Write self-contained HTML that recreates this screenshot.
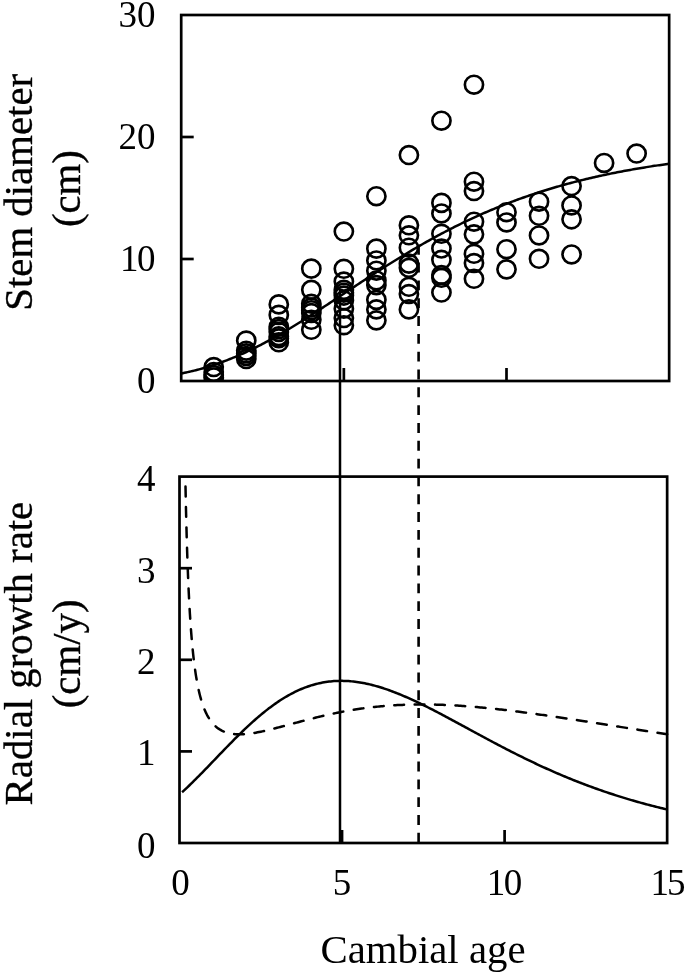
<!DOCTYPE html>
<html><head><meta charset="utf-8">
<style>
html,body{margin:0;padding:0;background:#fff;}
body{width:685px;height:975px;overflow:hidden;position:relative;}
svg{display:block;position:absolute;left:0;top:0;}
#txt{will-change:transform;}
text{font-family:"Liberation Serif",serif;fill:#000;}
.rot{stroke:#000;stroke-width:0.35px;}
</style></head><body>
<svg width="685" height="975" viewBox="0 0 685 975">
<rect width="685" height="975" fill="#fff"/>
<!-- top plot -->
<g fill="none" stroke="#000" stroke-width="2.7">
<rect x="181.20" y="15" width="487.95" height="366.00"/>
<line x1="181.20" y1="259.00" x2="193.70" y2="259.00"/>
<line x1="181.20" y1="137.00" x2="193.70" y2="137.00"/>
<line x1="343.85" y1="381.0" x2="343.85" y2="368.0"/>
<line x1="506.50" y1="381.0" x2="506.50" y2="368.0"/>
</g>
<defs><clipPath id="tc"><rect x="181.20" y="15" width="487.95" height="366.00"/></clipPath></defs>
<g fill="none" stroke="#000" stroke-width="2.65" clip-path="url(#tc)">
<ellipse cx="213.73" cy="367.09" rx="9.1" ry="8.95"/>
<ellipse cx="213.73" cy="371.97" rx="9.1" ry="8.95"/>
<ellipse cx="213.73" cy="375.02" rx="9.1" ry="8.95"/>
<ellipse cx="213.73" cy="377.46" rx="9.1" ry="8.95"/>
<ellipse cx="246.26" cy="340.50" rx="9.1" ry="8.95"/>
<ellipse cx="246.26" cy="350.74" rx="9.1" ry="8.95"/>
<ellipse cx="246.26" cy="353.31" rx="9.1" ry="8.95"/>
<ellipse cx="246.26" cy="355.99" rx="9.1" ry="8.95"/>
<ellipse cx="246.26" cy="359.04" rx="9.1" ry="8.95"/>
<ellipse cx="278.79" cy="304.38" rx="9.1" ry="8.95"/>
<ellipse cx="278.79" cy="314.88" rx="9.1" ry="8.95"/>
<ellipse cx="278.79" cy="326.71" rx="9.1" ry="8.95"/>
<ellipse cx="278.79" cy="329.03" rx="9.1" ry="8.95"/>
<ellipse cx="278.79" cy="331.96" rx="9.1" ry="8.95"/>
<ellipse cx="278.79" cy="336.23" rx="9.1" ry="8.95"/>
<ellipse cx="278.79" cy="338.30" rx="9.1" ry="8.95"/>
<ellipse cx="278.79" cy="342.33" rx="9.1" ry="8.95"/>
<ellipse cx="311.32" cy="268.64" rx="9.1" ry="8.95"/>
<ellipse cx="311.32" cy="289.87" rx="9.1" ry="8.95"/>
<ellipse cx="311.32" cy="303.77" rx="9.1" ry="8.95"/>
<ellipse cx="311.32" cy="307.56" rx="9.1" ry="8.95"/>
<ellipse cx="311.32" cy="310.24" rx="9.1" ry="8.95"/>
<ellipse cx="311.32" cy="313.05" rx="9.1" ry="8.95"/>
<ellipse cx="311.32" cy="319.76" rx="9.1" ry="8.95"/>
<ellipse cx="311.32" cy="329.76" rx="9.1" ry="8.95"/>
<ellipse cx="343.85" cy="231.55" rx="9.1" ry="8.95"/>
<ellipse cx="343.85" cy="268.76" rx="9.1" ry="8.95"/>
<ellipse cx="343.85" cy="281.57" rx="9.1" ry="8.95"/>
<ellipse cx="343.85" cy="289.87" rx="9.1" ry="8.95"/>
<ellipse cx="343.85" cy="292.67" rx="9.1" ry="8.95"/>
<ellipse cx="343.85" cy="295.60" rx="9.1" ry="8.95"/>
<ellipse cx="343.85" cy="300.48" rx="9.1" ry="8.95"/>
<ellipse cx="343.85" cy="308.65" rx="9.1" ry="8.95"/>
<ellipse cx="343.85" cy="318.05" rx="9.1" ry="8.95"/>
<ellipse cx="343.85" cy="325.25" rx="9.1" ry="8.95"/>
<ellipse cx="376.38" cy="196.17" rx="9.1" ry="8.95"/>
<ellipse cx="376.38" cy="248.63" rx="9.1" ry="8.95"/>
<ellipse cx="376.38" cy="260.46" rx="9.1" ry="8.95"/>
<ellipse cx="376.38" cy="270.71" rx="9.1" ry="8.95"/>
<ellipse cx="376.38" cy="280.47" rx="9.1" ry="8.95"/>
<ellipse cx="376.38" cy="285.11" rx="9.1" ry="8.95"/>
<ellipse cx="376.38" cy="299.87" rx="9.1" ry="8.95"/>
<ellipse cx="376.38" cy="309.39" rx="9.1" ry="8.95"/>
<ellipse cx="376.38" cy="320.37" rx="9.1" ry="8.95"/>
<ellipse cx="408.91" cy="155.06" rx="9.1" ry="8.95"/>
<ellipse cx="408.91" cy="225.33" rx="9.1" ry="8.95"/>
<ellipse cx="408.91" cy="235.33" rx="9.1" ry="8.95"/>
<ellipse cx="408.91" cy="247.65" rx="9.1" ry="8.95"/>
<ellipse cx="408.91" cy="263.64" rx="9.1" ry="8.95"/>
<ellipse cx="408.91" cy="267.78" rx="9.1" ry="8.95"/>
<ellipse cx="408.91" cy="286.82" rx="9.1" ry="8.95"/>
<ellipse cx="408.91" cy="294.01" rx="9.1" ry="8.95"/>
<ellipse cx="408.91" cy="309.39" rx="9.1" ry="8.95"/>
<ellipse cx="441.44" cy="120.65" rx="9.1" ry="8.95"/>
<ellipse cx="441.44" cy="202.88" rx="9.1" ry="8.95"/>
<ellipse cx="441.44" cy="213.49" rx="9.1" ry="8.95"/>
<ellipse cx="441.44" cy="233.75" rx="9.1" ry="8.95"/>
<ellipse cx="441.44" cy="248.51" rx="9.1" ry="8.95"/>
<ellipse cx="441.44" cy="259.85" rx="9.1" ry="8.95"/>
<ellipse cx="441.44" cy="274.98" rx="9.1" ry="8.95"/>
<ellipse cx="441.44" cy="277.79" rx="9.1" ry="8.95"/>
<ellipse cx="441.44" cy="292.55" rx="9.1" ry="8.95"/>
<ellipse cx="473.97" cy="84.66" rx="9.1" ry="8.95"/>
<ellipse cx="473.97" cy="181.65" rx="9.1" ry="8.95"/>
<ellipse cx="473.97" cy="191.05" rx="9.1" ry="8.95"/>
<ellipse cx="473.97" cy="221.67" rx="9.1" ry="8.95"/>
<ellipse cx="473.97" cy="234.36" rx="9.1" ry="8.95"/>
<ellipse cx="473.97" cy="253.75" rx="9.1" ry="8.95"/>
<ellipse cx="473.97" cy="263.03" rx="9.1" ry="8.95"/>
<ellipse cx="473.97" cy="278.76" rx="9.1" ry="8.95"/>
<ellipse cx="506.50" cy="212.15" rx="9.1" ry="8.95"/>
<ellipse cx="506.50" cy="222.40" rx="9.1" ry="8.95"/>
<ellipse cx="506.50" cy="249.24" rx="9.1" ry="8.95"/>
<ellipse cx="506.50" cy="269.37" rx="9.1" ry="8.95"/>
<ellipse cx="539.03" cy="201.66" rx="9.1" ry="8.95"/>
<ellipse cx="539.03" cy="215.81" rx="9.1" ry="8.95"/>
<ellipse cx="539.03" cy="235.45" rx="9.1" ry="8.95"/>
<ellipse cx="539.03" cy="258.76" rx="9.1" ry="8.95"/>
<ellipse cx="571.56" cy="186.04" rx="9.1" ry="8.95"/>
<ellipse cx="571.56" cy="205.44" rx="9.1" ry="8.95"/>
<ellipse cx="571.56" cy="219.35" rx="9.1" ry="8.95"/>
<ellipse cx="571.56" cy="254.49" rx="9.1" ry="8.95"/>
<ellipse cx="604.09" cy="162.99" rx="9.1" ry="8.95"/>
<ellipse cx="636.62" cy="153.59" rx="9.1" ry="8.95"/>
</g>
<path d="M181.20,373.49 L182.83,373.17 L184.45,372.83 L186.08,372.48 L187.71,372.13 L189.33,371.76 L190.96,371.38 L192.59,370.99 L194.21,370.60 L195.84,370.19 L197.46,369.77 L199.09,369.34 L200.72,368.89 L202.34,368.44 L203.97,367.98 L205.60,367.50 L207.22,367.02 L208.85,366.52 L210.48,366.01 L212.10,365.49 L213.73,364.96 L215.36,364.42 L216.98,363.86 L218.61,363.30 L220.24,362.72 L221.86,362.14 L223.49,361.54 L225.12,360.93 L226.74,360.31 L228.37,359.68 L230.00,359.03 L231.62,358.38 L233.25,357.71 L234.87,357.04 L236.50,356.35 L238.13,355.65 L239.75,354.94 L241.38,354.22 L243.01,353.49 L244.63,352.75 L246.26,352.00 L247.89,351.24 L249.51,350.47 L251.14,349.69 L252.77,348.89 L254.39,348.09 L256.02,347.28 L257.65,346.46 L259.27,345.63 L260.90,344.79 L262.52,343.94 L264.15,343.08 L265.78,342.22 L267.40,341.34 L269.03,340.46 L270.66,339.57 L272.28,338.66 L273.91,337.76 L275.54,336.84 L277.16,335.91 L278.79,334.98 L280.42,334.04 L282.04,333.10 L283.67,332.14 L285.30,331.18 L286.92,330.22 L288.55,329.24 L290.18,328.26 L291.80,327.28 L293.43,326.28 L295.06,325.29 L296.68,324.28 L298.31,323.28 L299.93,322.26 L301.56,321.24 L303.19,320.22 L304.81,319.19 L306.44,318.16 L308.07,317.12 L309.69,316.08 L311.32,315.04 L312.95,313.99 L314.57,312.94 L316.20,311.89 L317.83,310.83 L319.45,309.77 L321.08,308.71 L322.71,307.64 L324.33,306.57 L325.96,305.51 L327.58,304.43 L329.21,303.36 L330.84,302.29 L332.46,301.21 L334.09,300.13 L335.72,299.06 L337.34,297.98 L338.97,296.90 L340.60,295.82 L342.22,294.74 L343.85,293.66 L345.48,292.58 L347.10,291.50 L348.73,290.42 L350.36,289.34 L351.98,288.27 L353.61,287.19 L355.24,286.11 L356.86,285.04 L358.49,283.97 L360.12,282.89 L361.74,281.82 L363.37,280.76 L364.99,279.69 L366.62,278.62 L368.25,277.56 L369.87,276.50 L371.50,275.44 L373.13,274.39 L374.75,273.34 L376.38,272.29 L378.01,271.24 L379.63,270.20 L381.26,269.16 L382.89,268.12 L384.51,267.09 L386.14,266.06 L387.77,265.03 L389.39,264.01 L391.02,262.99 L392.64,261.97 L394.27,260.96 L395.90,259.96 L397.52,258.95 L399.15,257.95 L400.78,256.96 L402.40,255.97 L404.03,254.98 L405.66,254.00 L407.28,253.03 L408.91,252.06 L410.54,251.09 L412.16,250.13 L413.79,249.17 L415.42,248.22 L417.04,247.27 L418.67,246.33 L420.30,245.39 L421.92,244.46 L423.55,243.53 L425.18,242.61 L426.80,241.70 L428.43,240.79 L430.05,239.88 L431.68,238.98 L433.31,238.09 L434.93,237.20 L436.56,236.31 L438.19,235.44 L439.81,234.57 L441.44,233.70 L443.07,232.84 L444.69,231.98 L446.32,231.14 L447.95,230.29 L449.57,229.45 L451.20,228.62 L452.83,227.80 L454.45,226.98 L456.08,226.16 L457.70,225.35 L459.33,224.55 L460.96,223.75 L462.58,222.96 L464.21,222.18 L465.84,221.40 L467.46,220.63 L469.09,219.86 L470.72,219.10 L472.34,218.34 L473.97,217.59 L475.60,216.85 L477.22,216.11 L478.85,215.38 L480.48,214.65 L482.10,213.93 L483.73,213.22 L485.36,212.51 L486.98,211.81 L488.61,211.11 L490.24,210.42 L491.86,209.73 L493.49,209.05 L495.11,208.38 L496.74,207.71 L498.37,207.05 L499.99,206.39 L501.62,205.74 L503.25,205.09 L504.87,204.45 L506.50,203.82 L508.13,203.19 L509.75,202.57 L511.38,201.95 L513.01,201.34 L514.63,200.73 L516.26,200.13 L517.89,199.54 L519.51,198.95 L521.14,198.36 L522.76,197.78 L524.39,197.21 L526.02,196.64 L527.64,196.08 L529.27,195.52 L530.90,194.97 L532.52,194.42 L534.15,193.88 L535.78,193.34 L537.40,192.81 L539.03,192.28 L540.66,191.76 L542.28,191.24 L543.91,190.73 L545.54,190.22 L547.16,189.72 L548.79,189.22 L550.42,188.73 L552.04,188.25 L553.67,187.76 L555.30,187.29 L556.92,186.81 L558.55,186.34 L560.17,185.88 L561.80,185.42 L563.43,184.97 L565.05,184.52 L566.68,184.07 L568.31,183.63 L569.93,183.20 L571.56,182.76 L573.19,182.34 L574.81,181.91 L576.44,181.50 L578.07,181.08 L579.69,180.67 L581.32,180.27 L582.95,179.86 L584.57,179.47 L586.20,179.07 L587.83,178.68 L589.45,178.30 L591.08,177.92 L592.70,177.54 L594.33,177.17 L595.96,176.80 L597.58,176.43 L599.21,176.07 L600.84,175.72 L602.46,175.36 L604.09,175.01 L605.72,174.67 L607.34,174.32 L608.97,173.99 L610.60,173.65 L612.22,173.32 L613.85,172.99 L615.48,172.67 L617.10,172.35 L618.73,172.03 L620.36,171.71 L621.98,171.40 L623.61,171.10 L625.23,170.79 L626.86,170.49 L628.49,170.20 L630.11,169.90 L631.74,169.61 L633.37,169.32 L634.99,169.04 L636.62,168.76 L638.25,168.48 L639.87,168.21 L641.50,167.93 L643.13,167.66 L644.75,167.40 L646.38,167.14 L648.01,166.88 L649.63,166.62 L651.26,166.36 L652.88,166.11 L654.51,165.86 L656.14,165.62 L657.76,165.38 L659.39,165.14 L661.02,164.90 L662.64,164.66 L664.27,164.43 L665.90,164.20 L667.52,163.97 L669.15,163.75" fill="none" stroke="#000" stroke-width="2.5"/>
<!-- lower plot -->
<g fill="none" stroke="#000" stroke-width="2.7">
<rect x="179.50" y="476.60" width="487.65" height="366.40"/>
<line x1="179.50" y1="751.40" x2="192.00" y2="751.40"/>
<line x1="179.50" y1="659.80" x2="192.00" y2="659.80"/>
<line x1="179.50" y1="568.20" x2="192.00" y2="568.20"/>
<line x1="342.05" y1="843.0" x2="342.05" y2="830.0"/>
<line x1="504.60" y1="843.0" x2="504.60" y2="830.0"/>
</g>
<path d="M182.10,792.28 L182.75,791.68 L184.38,790.16 L186.00,788.62 L187.63,787.07 L189.25,785.51 L190.88,783.93 L192.50,782.33 L194.13,780.73 L195.75,779.11 L197.38,777.48 L199.01,775.83 L200.63,774.18 L202.26,772.53 L203.88,770.86 L205.51,769.19 L207.13,767.51 L208.76,765.82 L210.38,764.13 L212.01,762.44 L213.64,760.75 L215.26,759.06 L216.89,757.36 L218.51,755.67 L220.14,753.98 L221.76,752.29 L223.39,750.60 L225.01,748.92 L226.64,747.25 L228.26,745.58 L229.89,743.92 L231.52,742.26 L233.14,740.62 L234.77,738.99 L236.39,737.36 L238.02,735.75 L239.64,734.15 L241.27,732.57 L242.89,730.99 L244.52,729.44 L246.15,727.90 L247.77,726.37 L249.40,724.87 L251.02,723.38 L252.65,721.91 L254.27,720.45 L255.90,719.02 L257.52,717.61 L259.15,716.22 L260.77,714.85 L262.40,713.51 L264.03,712.19 L265.65,710.89 L267.28,709.61 L268.90,708.36 L270.53,707.13 L272.15,705.93 L273.78,704.76 L275.40,703.61 L277.03,702.49 L278.66,701.39 L280.28,700.32 L281.91,699.28 L283.53,698.27 L285.16,697.28 L286.78,696.32 L288.41,695.39 L290.03,694.49 L291.66,693.62 L293.28,692.78 L294.91,691.97 L296.54,691.18 L298.16,690.42 L299.79,689.70 L301.41,689.00 L303.04,688.33 L304.66,687.69 L306.29,687.08 L307.91,686.50 L309.54,685.95 L311.17,685.43 L312.79,684.94 L314.42,684.47 L316.04,684.04 L317.67,683.63 L319.29,683.26 L320.92,682.91 L322.54,682.59 L324.17,682.29 L325.79,682.03 L327.42,681.79 L329.05,681.58 L330.67,681.40 L332.30,681.24 L333.92,681.11 L335.55,681.01 L337.17,680.93 L338.80,680.88 L340.42,680.86 L342.05,680.86 L343.68,680.88 L345.30,680.93 L346.93,681.00 L348.55,681.10 L350.18,681.22 L351.80,681.37 L353.43,681.54 L355.05,681.73 L356.68,681.94 L358.30,682.17 L359.93,682.43 L361.56,682.71 L363.18,683.00 L364.81,683.32 L366.43,683.66 L368.06,684.02 L369.68,684.39 L371.31,684.79 L372.93,685.20 L374.56,685.63 L376.19,686.08 L377.81,686.55 L379.44,687.03 L381.06,687.53 L382.69,688.05 L384.31,688.58 L385.94,689.13 L387.56,689.69 L389.19,690.27 L390.81,690.86 L392.44,691.46 L394.07,692.08 L395.69,692.71 L397.32,693.35 L398.94,694.01 L400.57,694.68 L402.19,695.35 L403.82,696.04 L405.44,696.75 L407.07,697.46 L408.70,698.18 L410.32,698.91 L411.95,699.65 L413.57,700.40 L415.20,701.16 L416.82,701.93 L418.45,702.70 L420.07,703.48 L421.70,704.27 L423.32,705.07 L424.95,705.87 L426.58,706.68 L428.20,707.50 L429.83,708.32 L431.45,709.15 L433.08,709.98 L434.70,710.82 L436.33,711.66 L437.95,712.51 L439.58,713.36 L441.21,714.22 L442.83,715.07 L444.46,715.94 L446.08,716.80 L447.71,717.67 L449.33,718.54 L450.96,719.41 L452.58,720.28 L454.21,721.16 L455.83,722.04 L457.46,722.92 L459.09,723.80 L460.71,724.68 L462.34,725.56 L463.96,726.45 L465.59,727.33 L467.21,728.21 L468.84,729.10 L470.46,729.98 L472.09,730.86 L473.72,731.74 L475.34,732.63 L476.97,733.51 L478.59,734.39 L480.22,735.26 L481.84,736.14 L483.47,737.02 L485.09,737.89 L486.72,738.76 L488.34,739.63 L489.97,740.50 L491.60,741.36 L493.22,742.23 L494.85,743.09 L496.47,743.95 L498.10,744.80 L499.72,745.65 L501.35,746.50 L502.97,747.35 L504.60,748.19 L506.23,749.03 L507.85,749.87 L509.48,750.70 L511.10,751.53 L512.73,752.36 L514.35,753.18 L515.98,754.00 L517.60,754.81 L519.23,755.62 L520.86,756.43 L522.48,757.23 L524.11,758.03 L525.73,758.82 L527.36,759.61 L528.98,760.40 L530.61,761.18 L532.23,761.96 L533.86,762.73 L535.48,763.50 L537.11,764.26 L538.74,765.02 L540.36,765.77 L541.99,766.52 L543.61,767.27 L545.24,768.01 L546.86,768.74 L548.49,769.47 L550.11,770.20 L551.74,770.92 L553.37,771.63 L554.99,772.34 L556.62,773.05 L558.24,773.75 L559.87,774.44 L561.49,775.13 L563.12,775.82 L564.74,776.50 L566.37,777.17 L567.99,777.84 L569.62,778.51 L571.25,779.17 L572.87,779.82 L574.50,780.47 L576.12,781.12 L577.75,781.76 L579.37,782.39 L581.00,783.02 L582.62,783.65 L584.25,784.27 L585.88,784.88 L587.50,785.49 L589.13,786.09 L590.75,786.69 L592.38,787.29 L594.00,787.88 L595.63,788.46 L597.25,789.04 L598.88,789.61 L600.50,790.18 L602.13,790.75 L603.76,791.31 L605.38,791.86 L607.01,792.41 L608.63,792.95 L610.26,793.49 L611.88,794.03 L613.51,794.56 L615.13,795.08 L616.76,795.60 L618.38,796.12 L620.01,796.63 L621.64,797.14 L623.26,797.64 L624.89,798.14 L626.51,798.63 L628.14,799.12 L629.76,799.60 L631.39,800.08 L633.01,800.55 L634.64,801.02 L636.27,801.48 L637.89,801.94 L639.52,802.40 L641.14,802.85 L642.77,803.30 L644.39,803.74 L646.02,804.18 L647.64,804.61 L649.27,805.04 L650.89,805.47 L652.52,805.89 L654.15,806.31 L655.77,806.72 L657.40,807.13 L659.02,807.53 L660.65,807.93 L662.27,808.33 L663.90,808.72 L665.52,809.11 L667.15,809.49" fill="none" stroke="#000" stroke-width="2.5"/>
<path d="M185.31,476.60 L185.35,478.91 L185.68,495.23 L186.00,509.91 L186.33,523.17 L186.65,535.22 L186.98,546.20 L187.30,556.26 L187.63,565.50 L187.95,574.01 L188.28,581.89 L188.60,589.19 L188.93,595.97 L189.25,602.30 L189.58,608.20 L189.90,613.73 L190.23,618.91 L190.55,623.78 L190.88,628.36 L191.20,632.67 L191.53,636.75 L191.85,640.60 L192.18,644.25 L192.50,647.70 L192.83,650.98 L193.15,654.10 L193.48,657.06 L193.80,659.88 L194.13,662.57 L194.45,665.14 L194.78,667.59 L195.10,669.93 L195.43,672.17 L195.75,674.31 L196.08,676.36 L196.41,678.33 L196.73,680.21 L197.06,682.02 L197.38,683.76 L197.71,685.43 L198.03,687.04 L198.36,688.58 L198.68,690.07 L199.01,691.50 L199.33,692.88 L199.66,694.21 L199.98,695.49 L200.31,696.73 L200.63,697.93 L200.96,699.08 L201.28,700.19 L201.61,701.27 L201.93,702.31 L202.26,703.31 L202.58,704.29 L202.91,705.23 L203.23,706.14 L203.56,707.02 L203.88,707.87 L204.21,708.70 L204.53,709.50 L204.86,710.28 L205.18,711.03 L205.51,711.76 L205.83,712.46 L206.16,713.15 L206.48,713.81 L206.81,714.46 L207.13,715.09 L207.46,715.69 L207.78,716.28 L208.11,716.86 L208.43,717.41 L208.76,717.95 L209.08,718.47 L209.41,718.98 L209.73,719.48 L210.06,719.96 L210.38,720.43 L210.71,720.88 L211.03,721.32 L211.36,721.75 L211.68,722.16 L212.01,722.57 L213.64,724.43 L215.26,726.04 L216.89,727.44 L218.51,728.65 L220.14,729.70 L221.76,730.60 L223.39,731.37 L225.01,732.03 L226.64,732.58 L228.27,733.04 L229.89,733.42 L231.52,733.72 L233.14,733.96 L234.77,734.13 L236.39,734.24 L238.02,734.31 L239.64,734.32 L241.27,734.30 L242.89,734.23 L244.52,734.13 L246.15,734.00 L247.77,733.84 L249.40,733.65 L251.02,733.43 L252.65,733.19 L254.27,732.93 L255.90,732.65 L257.52,732.35 L259.15,732.03 L260.77,731.70 L262.40,731.36 L264.03,731.00 L265.65,730.64 L267.28,730.26 L268.90,729.87 L270.53,729.48 L272.15,729.08 L273.78,728.67 L275.40,728.25 L277.03,727.83 L278.66,727.41 L280.28,726.98 L281.91,726.55 L283.53,726.11 L285.16,725.68 L286.78,725.24 L288.41,724.80 L290.03,724.36 L291.66,723.92 L293.28,723.48 L294.91,723.05 L296.54,722.61 L298.16,722.17 L299.79,721.74 L301.41,721.31 L303.04,720.88 L304.66,720.45 L306.29,720.03 L307.91,719.61 L309.54,719.19 L311.17,718.77 L312.79,718.37 L314.42,717.96 L316.04,717.56 L317.67,717.16 L319.29,716.77 L320.92,716.38 L322.54,716.00 L324.17,715.62 L325.79,715.25 L327.42,714.88 L329.05,714.52 L330.67,714.17 L332.30,713.82 L333.92,713.48 L335.55,713.14 L337.17,712.81 L338.80,712.48 L340.42,712.16 L342.05,711.85 L343.68,711.54 L345.30,711.24 L346.93,710.95 L348.55,710.66 L350.18,710.38 L351.80,710.10 L353.43,709.84 L355.05,709.58 L356.68,709.32 L358.30,709.07 L359.93,708.83 L361.56,708.60 L363.18,708.37 L364.81,708.15 L366.43,707.93 L368.06,707.73 L369.68,707.53 L371.31,707.33 L372.93,707.14 L374.56,706.96 L376.19,706.79 L377.81,706.62 L379.44,706.46 L381.06,706.30 L382.69,706.16 L384.31,706.01 L385.94,705.88 L387.56,705.75 L389.19,705.63 L390.81,705.51 L392.44,705.40 L394.07,705.30 L395.69,705.20 L397.32,705.11 L398.94,705.03 L400.57,704.95 L402.19,704.88 L403.82,704.81 L405.44,704.75 L407.07,704.69 L408.70,704.65 L410.32,704.60 L411.95,704.56 L413.57,704.53 L415.20,704.51 L416.82,704.49 L418.45,704.47 L420.07,704.46 L421.70,704.46 L423.32,704.46 L424.95,704.47 L426.58,704.48 L428.20,704.50 L429.83,704.52 L431.45,704.55 L433.08,704.58 L434.70,704.61 L436.33,704.66 L437.95,704.70 L439.58,704.75 L441.21,704.81 L442.83,704.87 L444.46,704.94 L446.08,705.01 L447.71,705.08 L449.33,705.16 L450.96,705.24 L452.58,705.33 L454.21,705.42 L455.83,705.52 L457.46,705.61 L459.09,705.72 L460.71,705.82 L462.34,705.94 L463.96,706.05 L465.59,706.17 L467.21,706.29 L468.84,706.42 L470.46,706.55 L472.09,706.68 L473.72,706.81 L475.34,706.95 L476.97,707.10 L478.59,707.24 L480.22,707.39 L481.84,707.54 L483.47,707.70 L485.09,707.86 L486.72,708.02 L488.35,708.18 L489.97,708.35 L491.60,708.52 L493.22,708.69 L494.85,708.87 L496.47,709.04 L498.10,709.22 L499.72,709.41 L501.35,709.59 L502.97,709.78 L504.60,709.97 L506.23,710.16 L507.85,710.36 L509.48,710.55 L511.10,710.75 L512.73,710.95 L514.35,711.16 L515.98,711.36 L517.60,711.57 L519.23,711.78 L520.86,711.99 L522.48,712.20 L524.11,712.41 L525.73,712.63 L527.36,712.85 L528.98,713.07 L530.61,713.29 L532.23,713.51 L533.86,713.73 L535.48,713.96 L537.11,714.19 L538.74,714.42 L540.36,714.65 L541.99,714.88 L543.61,715.11 L545.24,715.34 L546.86,715.58 L548.49,715.81 L550.11,716.05 L551.74,716.29 L553.37,716.53 L554.99,716.77 L556.62,717.01 L558.24,717.25 L559.87,717.49 L561.49,717.74 L563.12,717.98 L564.74,718.23 L566.37,718.47 L567.99,718.72 L569.62,718.97 L571.25,719.22 L572.87,719.46 L574.50,719.71 L576.12,719.96 L577.75,720.22 L579.37,720.47 L581.00,720.72 L582.62,720.97 L584.25,721.22 L585.88,721.48 L587.50,721.73 L589.13,721.99 L590.75,722.24 L592.38,722.50 L594.00,722.75 L595.63,723.01 L597.25,723.26 L598.88,723.52 L600.50,723.77 L602.13,724.03 L603.76,724.29 L605.38,724.54 L607.01,724.80 L608.63,725.06 L610.26,725.32 L611.88,725.57 L613.51,725.83 L615.13,726.09 L616.76,726.35 L618.39,726.60 L620.01,726.86 L621.64,727.12 L623.26,727.38 L624.89,727.63 L626.51,727.89 L628.14,728.15 L629.76,728.40 L631.39,728.66 L633.01,728.92 L634.64,729.17 L636.27,729.43 L637.89,729.69 L639.52,729.94 L641.14,730.20 L642.77,730.46 L644.39,730.71 L646.02,730.97 L647.64,731.22 L649.27,731.48 L650.90,731.73 L652.52,731.98 L654.15,732.24 L655.77,732.49 L657.40,732.74 L659.02,733.00 L660.65,733.25 L662.27,733.50 L663.90,733.75 L665.52,734.01 L667.15,734.26" fill="none" stroke="#000" stroke-width="2.5" stroke-linecap="round" stroke-dasharray="9.8 10.6" stroke-dashoffset="10.4"/>
<!-- vertical lines -->
<line x1="340.0" y1="289.6" x2="340.0" y2="843.0" stroke="#000" stroke-width="2.5"/>
<line x1="418.6" y1="244.8" x2="418.6" y2="843.0" stroke="#000" stroke-width="2.6" stroke-dasharray="9.9 7.92"/>
</svg>
<svg id="txt" width="685" height="975" viewBox="0 0 685 975">
<!-- tick labels -->
<g font-size="37" text-anchor="end">
<text x="155.5" y="27">30</text>
<text x="155.5" y="149">20</text>
<text x="155.5" y="271">1<tspan dx="-1.5">0</tspan></text>
<text x="155.5" y="393">0</text>
<text x="155.5" y="491">4</text>
<text x="155.5" y="583.3">3</text>
<text x="155.5" y="674.4">2</text>
<text x="155.5" y="765">1</text>
<text x="155.5" y="858">0</text>
</g>
<g font-size="37" text-anchor="middle">
<text x="180.5" y="895">0</text>
<text x="342" y="895">5</text>
<text x="504.6" y="895">1<tspan dx="-1.5">0</tspan></text>
<text x="668" y="895">1<tspan dx="-2">5</tspan></text>
</g>
<g font-size="40.8" text-anchor="middle">
<text transform="translate(31.8,192.3) rotate(-90)" class="rot">Stem diameter</text>
<text transform="translate(80,188.6) rotate(-90)" class="rot">(cm)</text>
<text transform="translate(31.8,653.6) rotate(-90)" class="rot">Radial growth rate</text>
<text transform="translate(80,653.9) rotate(-90)" class="rot">(cm/y)</text>
<text x="423" y="963">Cambial age</text>
</g>
</svg>
</body></html>
